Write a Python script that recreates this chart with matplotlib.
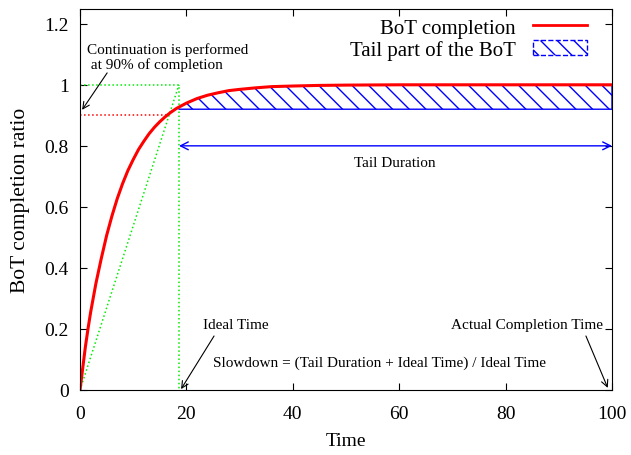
import numpy as np
import matplotlib.pyplot as plt
from matplotlib.patches import Patch
from matplotlib.lines import Line2D

plt.rcParams['font.family'] = ['Liberation Serif', 'DejaVu Serif']
plt.rcParams['hatch.linewidth'] = 1.0

# BoT completion curve
t = [0, 0.5, 1, 1.5, 2, 3, 4, 5, 6, 7, 8, 9, 10, 11, 12, 13, 14, 15, 16, 17, 18, 18.6,
     20, 22, 24, 26, 28, 30, 33, 36, 40, 45, 50, 60, 70, 80, 90, 100]
ratio = [0, 0.07, 0.14, 0.20, 0.255, 0.35, 0.431, 0.506, 0.570, 0.627, 0.676, 0.719,
         0.755, 0.788, 0.815, 0.840, 0.861, 0.879, 0.895, 0.909, 0.921, 0.927,
         0.940, 0.955, 0.966, 0.974, 0.981, 0.985, 0.990, 0.994, 0.996, 0.998, 0.999,
         1.0, 1.0, 1.0, 1.0, 1.0]

ideal_time = 18.6
cont_time = 16.2
cont_level = 0.9
tail_low = 0.92
end_time = 100

t = np.array(t)
ratio = np.array(ratio)

fig, ax = plt.subplots(figsize=(6.31, 4.56), dpi=100)
fig.subplots_adjust(left=80/631, right=612/631, top=1-9.5/456, bottom=1-391/456)

# tail part hatched area
m = t >= ideal_time
ax.fill_between(t[m], tail_low, ratio[m], facecolor='none', edgecolor='blue',
                hatch='\\\\', linewidth=1.0)

# helper dotted lines
ax.plot([0, ideal_time], [0, 1], ':', color='#00ee00', lw=1.1)
ax.plot([0, ideal_time, ideal_time], [1, 1, 0], ':', color='#00ee00', lw=1.1)
ax.plot([0, cont_time], [cont_level, cont_level], ':', color='red', lw=1.1)

ax.plot(t, ratio, color='red', lw=2.2)

# tail duration arrow
ax.annotate('', xy=(end_time, 0.8), xytext=(ideal_time, 0.8),
            arrowprops=dict(arrowstyle='<->', color='blue', lw=1.0,
                            shrinkA=0, shrinkB=0, mutation_scale=14))
ax.text(59.2, 0.745, 'Tail Duration', ha='center', va='center', fontsize=11)

ax.text(1.3, 1.093, 'Continuation is performed\n at 90% of completion',
        ha='left', va='center', fontsize=11, linespacing=1.1)
ax.annotate('', xy=(0.4, 0.918), xytext=(5.1, 1.039),
            arrowprops=dict(arrowstyle='->', color='black', lw=0.8,
                            shrinkA=0, shrinkB=0, mutation_scale=12))

ax.text(23.1, 0.213, 'Ideal Time', ha='left', va='center', fontsize=11)
ax.annotate('', xy=(19, 0.003), xytext=(25.2, 0.177),
            arrowprops=dict(arrowstyle='->', color='black', lw=0.8,
                            shrinkA=0, shrinkB=0, mutation_scale=12))

ax.text(25, 0.092, 'Slowdown = (Tail Duration + Ideal Time) / Ideal Time',
        ha='left', va='center', fontsize=11)

ax.text(98.3, 0.213, 'Actual Completion Time', ha='right', va='center', fontsize=11)
ax.annotate('', xy=(99.2, 0.007), xytext=(95.1, 0.177),
            arrowprops=dict(arrowstyle='->', color='black', lw=0.8,
                            shrinkA=0, shrinkB=0, mutation_scale=12))

handles = [Line2D([], [], color='red', lw=2),
           Patch(facecolor='none', edgecolor='blue', hatch='\\\\', linestyle='--')]
ax.legend(handles, ['BoT completion', 'Tail part of the BoT'], loc='upper right',
          bbox_to_anchor=(0.98, 1.013), frameon=False, markerfirst=False,
          fontsize=15, handlelength=2.6, labelspacing=0.1, borderaxespad=0.3,
          handletextpad=0.8)

ax.set_xlim(0, 100)
ax.set_ylim(0, 1.25)
ax.set_xticks([0, 20, 40, 60, 80, 100])
ax.set_yticks([0, 0.2, 0.4, 0.6, 0.8, 1, 1.2])
ax.set_yticklabels(['0', '0.2', '0.4', '0.6', '0.8', '1', '1.2'])
ax.tick_params(direction='in', top=True, right=True, length=5, labelsize=14, pad=8)
ax.tick_params(axis='x', pad=11)
ax.set_xlabel('Time', fontsize=14, labelpad=7)
ax.set_ylabel('BoT completion ratio', fontsize=15.5)
ax.yaxis.set_label_coords(-(80 - 30) / 532, 0.5)

plt.savefig('out.png', dpi=100)
